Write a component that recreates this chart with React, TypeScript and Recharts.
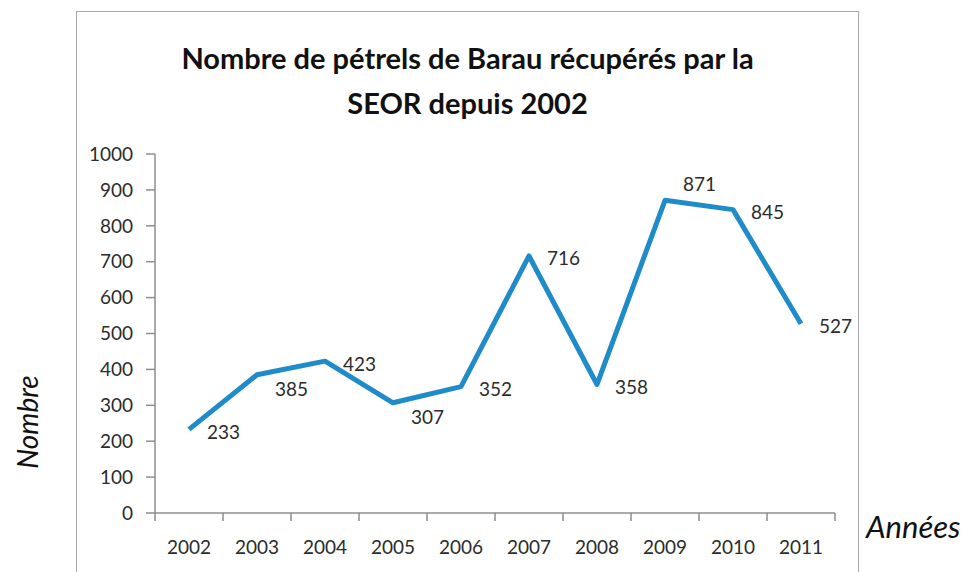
import React from 'react';
import { LineChart, Line, XAxis, YAxis, LabelList } from 'recharts';

const years = ['2002', '2003', '2004', '2005', '2006', '2007', '2008', '2009', '2010', '2011'];
const petrels = [233, 385, 423, 307, 352, 716, 358, 871, 845, 527];
const yTicks = [0, 100, 200, 300, 400, 500, 600, 700, 800, 900, 1000];
// where Excel put each data label relative to its point
const labelPlacement = ['right', 'lower', 'right', 'lower', 'right', 'right', 'right', 'upper', 'right', 'right'];

const data = years.map((year, i) => ({ idx: i, year, value: petrels[i] }));
const bandEdges = years.map((_, i) => i - 0.5).concat(years.length - 0.5);

const FONT = 'Lato, "Open Sans", sans-serif';
const BLUE = '#1f8bc8';
const AXIS = '#8e8e8e';
const TEXT = '#2b2b2b';

const PointLabel = (props: any) => {
  const { x, y, value, index } = props;
  const place = labelPlacement[index] || 'right';
  const dy = place === 'lower' ? 14 : place === 'upper' ? -17 : 2;
  return (
    <text
      x={x + 18}
      y={y + dy}
      dominantBaseline="central"
      fontFamily={FONT}
      fontSize={19}
      fill={TEXT}
    >
      {value}
    </text>
  );
};

export default function App() {
  return (
    <div style={{ position: 'absolute', left: 0, top: 0, width: 973, height: 572, overflow: 'hidden', background: '#fff' }}>
      <div
        style={{
          position: 'absolute',
          left: 76,
          top: 11,
          width: 783,
          height: 620,
          boxSizing: 'border-box',
          border: '1.5px solid #a8a8a8',
        }}
      />
      <div
        style={{
          position: 'absolute',
          left: 76,
          top: 35,
          width: 783,
          textAlign: 'center',
          fontFamily: FONT,
          fontWeight: 700,
          fontSize: 29,
          lineHeight: '45px',
          color: '#111',
        }}
      >
        Nombre de pétrels de Barau récupérés par la
        <br />
        SEOR depuis 2002
      </div>
      <div
        style={{
          position: 'absolute',
          left: 27,
          top: 422,
          transform: 'translate(-50%, -50%) rotate(-90deg)',
          whiteSpace: 'nowrap',
          fontFamily: FONT,
          fontStyle: 'italic',
          fontSize: 28,
          color: '#111',
        }}
      >
        Nombre
      </div>
      <div
        style={{
          position: 'absolute',
          left: 866,
          top: 507,
          whiteSpace: 'nowrap',
          fontFamily: FONT,
          fontStyle: 'italic',
          fontSize: 31,
          color: '#111',
        }}
      >
        Années
      </div>
      <div style={{ position: 'absolute', left: 0, top: 0 }}>
        <LineChart width={973} height={572} data={data} margin={{ top: 154, right: 138, bottom: 57, left: 75 }}>
          <XAxis
            xAxisId="edges"
            dataKey="idx"
            type="number"
            domain={[-0.5, years.length - 0.5]}
            ticks={bandEdges}
            tickFormatter={() => ''}
            height={1}
            tickSize={8}
            axisLine={{ stroke: AXIS, strokeWidth: 1.5 }}
            tickLine={{ stroke: AXIS, strokeWidth: 1.5 }}
            interval={0}
            allowDataOverflow
          />
          <XAxis
            xAxisId="years"
            dataKey="idx"
            type="number"
            domain={[-0.5, years.length - 0.5]}
            ticks={years.map((_, i) => i)}
            tickFormatter={(i: number) => years[i]}
            height={1}
            tickSize={6}
            tickMargin={21}
            axisLine={false}
            tickLine={false}
            tick={{ fontFamily: FONT, fontSize: 19, fill: TEXT }}
            interval={0}
            allowDataOverflow
          />
          <YAxis
            width={80}
            domain={[0, 1000]}
            ticks={yTicks}
            interval={0}
            tickSize={9}
            tickMargin={13}
            axisLine={{ stroke: AXIS, strokeWidth: 1.5 }}
            tickLine={{ stroke: AXIS, strokeWidth: 1.5 }}
            tick={{ fontFamily: FONT, fontSize: 19, fill: TEXT }}
          />
          <Line
            xAxisId="years"
            dataKey="value"
            type="linear"
            stroke={BLUE}
            strokeWidth={5}
            strokeLinejoin="round"
            dot={false}
            activeDot={false}
            isAnimationActive={false}
          >
            <LabelList dataKey="value" content={PointLabel} />
          </Line>
        </LineChart>
      </div>
    </div>
  );
}
